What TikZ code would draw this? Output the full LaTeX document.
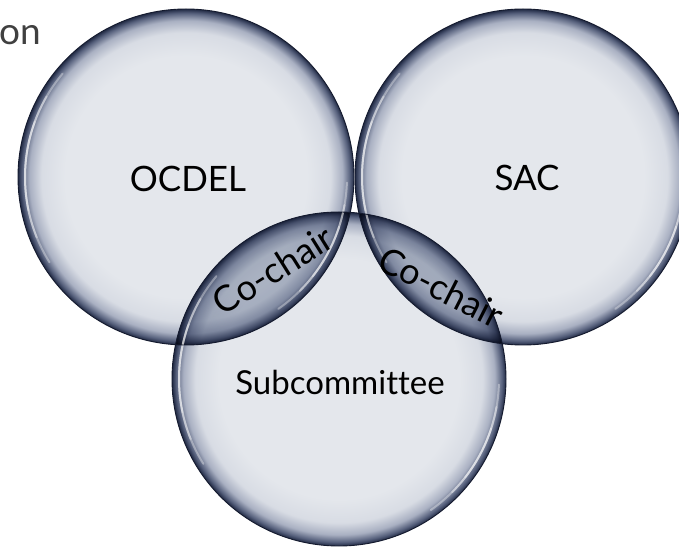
\documentclass[tikz,border=0pt]{standalone}
\usepackage{fontspec}
\setmainfont{Lato}[Ligatures=NoCommon]
\definecolor{bfill}{HTML}{E4E7EC}
\definecolor{bfillb}{HTML}{D8DCE4}
\definecolor{bmid}{HTML}{A9B0C2}
\definecolor{bdark}{HTML}{56607C}
\definecolor{bedge}{HTML}{202943}
\definecolor{lfill}{HTML}{C4CAD6}
\definecolor{lfillb}{HTML}{B8BFCD}
\definecolor{lmid}{HTML}{8A93AA}
\definecolor{ldark}{HTML}{4E5874}
\definecolor{outl}{HTML}{141A2E}
\definecolor{titlegray}{HTML}{404040}
\pgfdeclareradialshading{bubble}{\pgfpointorigin}{color(0bp)=(bfill); color(18bp)=(bfill); color(21.5bp)=(bfillb); color(23.3bp)=(bmid); color(24.4bp)=(bdark); color(25bp)=(bedge); color(50bp)=(bedge)}
\pgfdeclareradialshading{lensbubble}{\pgfpointorigin}{color(0bp)=(lfill); color(18bp)=(lfill); color(21.5bp)=(lfillb); color(23.3bp)=(lmid); color(24.4bp)=(ldark); color(25bp)=(bedge); color(50bp)=(bedge)}
\tikzset{
  lbl/.style={font=\fontsize{34}{40}\selectfont, text=black, inner sep=0pt},
  rim/.style={draw=outl, line width=0.9pt},
  hl/.style={draw=white, line width=2pt, line cap=round, draw opacity=0.35},
}
\begin{document}
\begin{tikzpicture}[x=1pt,y=1pt]
\useasboundingbox (0,0) rectangle (679,546);
\fill[white] (0,0) rectangle (679,546);
\coordinate (cO) at (186,369);
\coordinate (cS) at (523,369);
\coordinate (cB) at (339,167);
% bubbles
\shade[shading=bubble] (cO) circle[radius=168];
\shade[shading=bubble] (cS) circle[radius=168];
\shade[shading=bubble] (cB) circle[radius=167];
% lenses
\begin{scope}
  \clip (cO) circle[radius=168];
  \clip (cB) circle[radius=167];
  \shade[shading=bubble] (cO) circle[radius=168];
  \shade[shading=lensbubble, blend mode=multiply] (cB) circle[radius=167];
\end{scope}
\begin{scope}
  \clip (cS) circle[radius=168];
  \clip (cB) circle[radius=167];
  \shade[shading=bubble] (cS) circle[radius=168];
  \shade[shading=lensbubble, blend mode=multiply] (cB) circle[radius=167];
\end{scope}
% highlights
\foreach \c/\r in {cO/161, cS/161, cB/160}{
  \draw[hl] ([shift={(140:\r)}]\c) arc[start angle=140, end angle=212, radius=\r];
  \draw[hl] ([shift={(150:\r)}]\c) arc[start angle=150, end angle=202, radius=\r];
  \draw[hl] ([shift={(160:\r)}]\c) arc[start angle=160, end angle=192, radius=\r];
  \draw[hl] ([shift={(-55:\r)}]\c) arc[start angle=-55, end angle=-2, radius=\r];
  \draw[hl] ([shift={(-45:\r)}]\c) arc[start angle=-45, end angle=-10, radius=\r];
  \draw[hl] ([shift={(-38:\r)}]\c) arc[start angle=-38, end angle=-18, radius=\r];
}
% rims
\draw[rim] (cO) circle[radius=168];
\draw[rim] (cS) circle[radius=168];
\draw[rim] (cB) circle[radius=167];
% labels
\node[anchor=base west, inner sep=0pt, text=titlegray, font=\fontsize{37}{44}\selectfont] (title) at (-1,501) {on};
\node[lbl, font=\fontsize{35}{40}\selectfont] (ocdel) at (188,367) {OCDEL};
\node[lbl, font=\fontsize{35}{40}\selectfont] (sac) at (527,368) {SAC};
\node[lbl, font=\fontsize{33}{40}\selectfont] (sub) at (340,164) {Subcommittee};
\node[lbl, font=\fontsize{36}{40}\selectfont, rotate=32] (co1) at (273,276) {Co-chair};
\node[lbl, font=\fontsize{36}{40}\selectfont, rotate=-27] (co2) at (441,259) {Co-chair};
\end{tikzpicture}
\end{document}
